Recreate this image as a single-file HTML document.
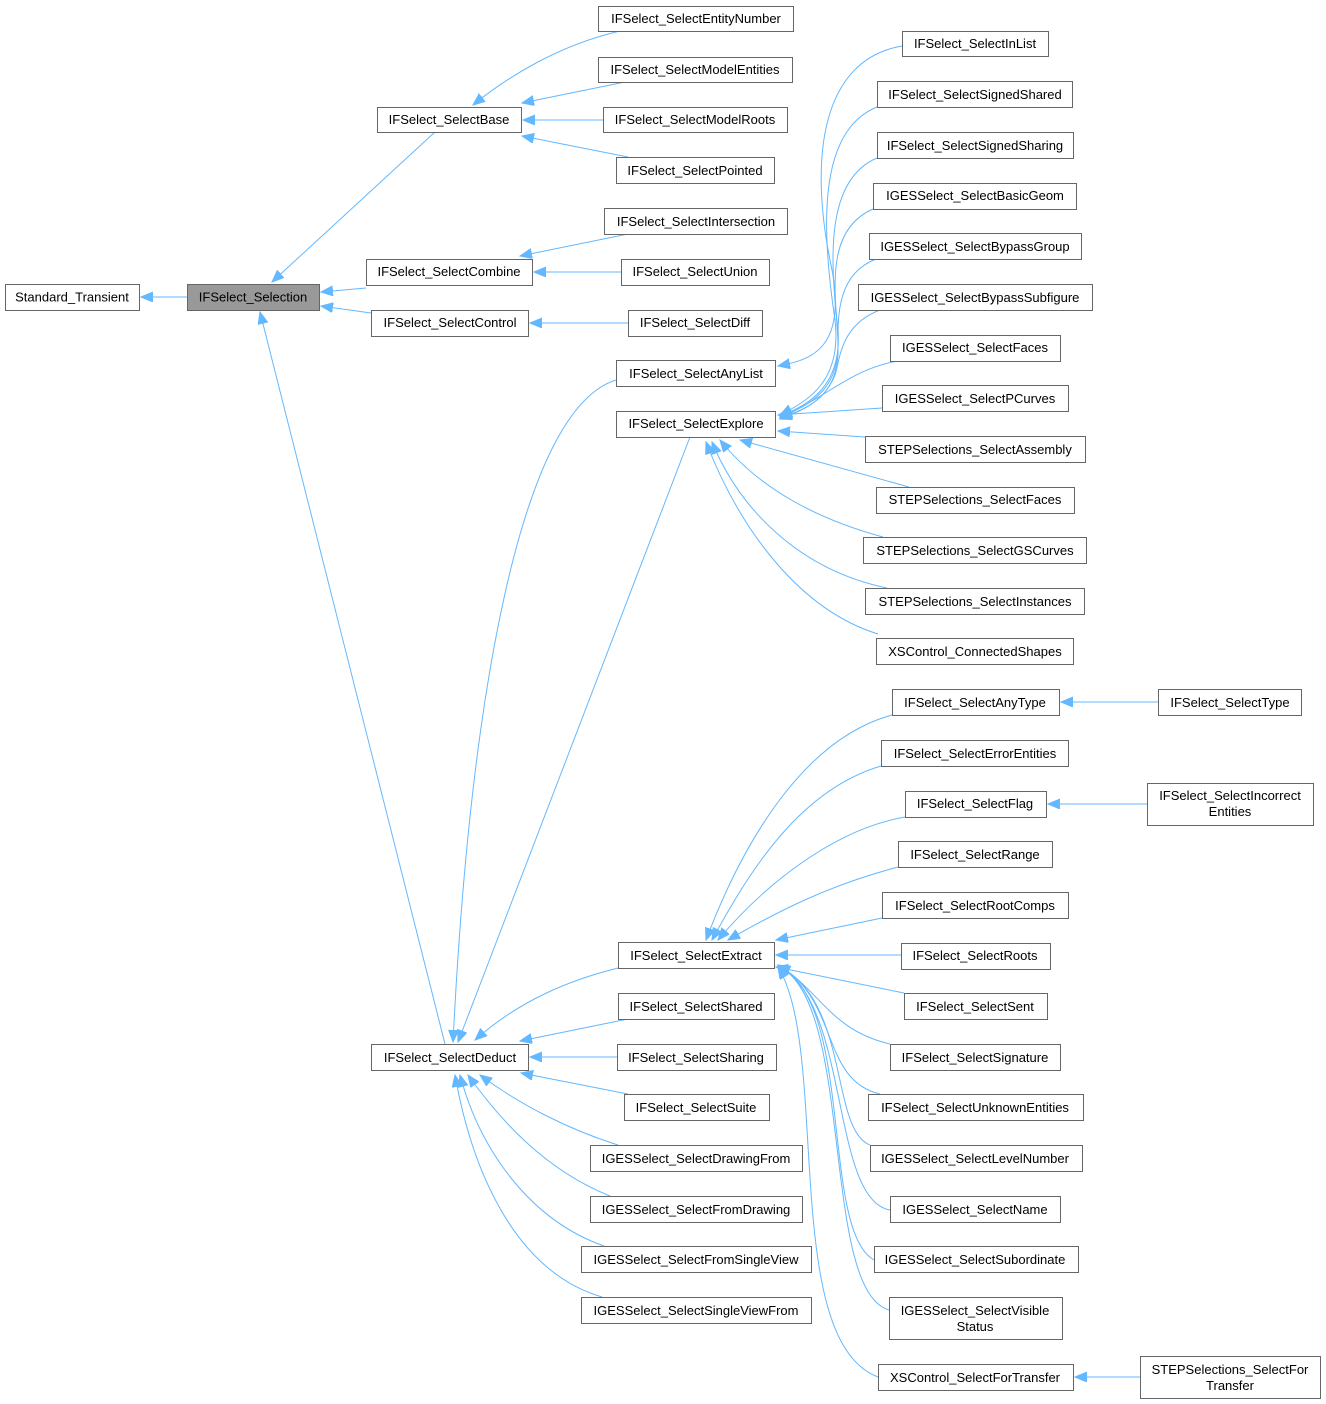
<!DOCTYPE html>
<html><head><meta charset="utf-8"><style>
html,body{margin:0;padding:0;background:#fff;}
svg{display:block;}
text{font-family:"Liberation Sans",sans-serif;font-size:13px;fill:#000;}
.e{fill:none;stroke:#63b8ff;stroke-width:1;}
rect{fill:#fff;stroke:#666;stroke-width:1;}
</style></head><body>
<svg width="1326" height="1404" viewBox="0 0 1326 1404" xmlns="http://www.w3.org/2000/svg">
<defs><marker id="a" markerUnits="userSpaceOnUse" markerWidth="14" markerHeight="12" refX="12" refY="5" orient="auto"><path d="M0,0 L12,5 L0,10 z" fill="#63b8ff" stroke="#63b8ff"/></marker></defs>
<g class="edges">
<path class="e" marker-end="url(#a)" d="M187,297 L141,297"/>
<path class="e" marker-end="url(#a)" d="M435,132 L272,282"/>
<path class="e" marker-end="url(#a)" d="M620,31 C560,45 510,75 473,105"/>
<path class="e" marker-end="url(#a)" d="M625,82 L522,103"/>
<path class="e" marker-end="url(#a)" d="M603,120 L523,120"/>
<path class="e" marker-end="url(#a)" d="M628,157 L522,136"/>
<path class="e" marker-end="url(#a)" d="M628,234 L520,256"/>
<path class="e" marker-end="url(#a)" d="M621,272 L534,272"/>
<path class="e" marker-end="url(#a)" d="M366,288 L321,292"/>
<path class="e" marker-end="url(#a)" d="M371,313 L321,306"/>
<path class="e" marker-end="url(#a)" d="M628,323 L530,323"/>
<path class="e" marker-end="url(#a)" d="M445,1044 L260,312"/>
<path class="e" marker-end="url(#a)" d="M616,380 C520,410 470,700 453,1042"/>
<path class="e" marker-end="url(#a)" d="M690,437 L458,1042"/>
<path class="e" marker-end="url(#a)" d="M618,968 C570,980 520,1000 475,1040"/>
<path class="e" marker-end="url(#a)" d="M628,1019 L520,1041"/>
<path class="e" marker-end="url(#a)" d="M617,1057 L530,1057"/>
<path class="e" marker-end="url(#a)" d="M628,1094 L521,1073"/>
<path class="e" marker-end="url(#a)" d="M618,1145 C570,1130 520,1105 480,1075"/>
<path class="e" marker-end="url(#a)" d="M610,1196 C545,1170 500,1120 468,1075"/>
<path class="e" marker-end="url(#a)" d="M604,1246 C530,1220 480,1150 460,1075"/>
<path class="e" marker-end="url(#a)" d="M602,1297 C510,1270 470,1160 455,1075"/>
<path class="e" marker-end="url(#a)" d="M902,46 C820,60 810,160 830,260 C850,350 810,360 778,366"/>
<path class="e" marker-end="url(#a)" d="M877,107 C820,130 820,220 835,320 C842,380 810,400 780,415"/>
<path class="e" marker-end="url(#a)" d="M877,158 C825,180 830,260 838,330 C842,385 810,405 780,416"/>
<path class="e" marker-end="url(#a)" d="M873,209 C825,230 835,290 838,340 C840,390 810,405 780,417"/>
<path class="e" marker-end="url(#a)" d="M876,259 C835,275 838,320 838,350 C838,395 810,408 780,418"/>
<path class="e" marker-end="url(#a)" d="M880,310 C840,325 840,360 835,375 C825,400 805,410 780,419"/>
<path class="e" marker-end="url(#a)" d="M897,361 C850,370 830,395 780,418"/>
<path class="e" marker-end="url(#a)" d="M882,408 L778,415"/>
<path class="e" marker-end="url(#a)" d="M865,437 L778,431"/>
<path class="e" marker-end="url(#a)" d="M909,487 L740,440"/>
<path class="e" marker-end="url(#a)" d="M883,537 C820,520 760,490 720,440"/>
<path class="e" marker-end="url(#a)" d="M887,588 C800,570 740,510 712,442"/>
<path class="e" marker-end="url(#a)" d="M878,634 C800,610 740,530 706,442"/>
<path class="e" marker-end="url(#a)" d="M892,715 C800,740 740,850 706,940"/>
<path class="e" marker-end="url(#a)" d="M881,766 C800,790 750,870 712,940"/>
<path class="e" marker-end="url(#a)" d="M905,817 C830,830 760,890 718,940"/>
<path class="e" marker-end="url(#a)" d="M898,867 C830,885 780,910 728,940"/>
<path class="e" marker-end="url(#a)" d="M882,918 L776,940"/>
<path class="e" marker-end="url(#a)" d="M901,955 L776,955"/>
<path class="e" marker-end="url(#a)" d="M904,993 L776,967"/>
<path class="e" marker-end="url(#a)" d="M890,1044 C830,1030 820,990 778,965"/>
<path class="e" marker-end="url(#a)" d="M880,1094 C820,1080 840,1000 778,965"/>
<path class="e" marker-end="url(#a)" d="M870,1145 C830,1130 850,1000 778,966"/>
<path class="e" marker-end="url(#a)" d="M890,1210 C830,1200 850,1000 778,966"/>
<path class="e" marker-end="url(#a)" d="M874,1260 C820,1230 855,1000 778,966"/>
<path class="e" marker-end="url(#a)" d="M889,1310 C820,1290 855,1000 778,966"/>
<path class="e" marker-end="url(#a)" d="M878,1377 C780,1340 830,1050 778,967"/>
<path class="e" marker-end="url(#a)" d="M1158,702 L1061,702"/>
<path class="e" marker-end="url(#a)" d="M1147,804 L1048,804"/>
<path class="e" marker-end="url(#a)" d="M1140,1377 L1075,1377"/>
</g>
<g text-anchor="middle">
<rect x="5.5" y="284.5" width="134" height="26"/><text x="72" y="301.5">Standard_Transient</text>
<rect x="187.5" y="284.5" width="132" height="26" style="fill:#999"/><text x="253" y="301.5">IFSelect_Selection</text>
<rect x="377.5" y="107.5" width="144" height="25"/><text x="449" y="124">IFSelect_SelectBase</text>
<rect x="598.5" y="6.5" width="195" height="25"/><text x="696" y="23">IFSelect_SelectEntityNumber</text>
<rect x="598.5" y="57.5" width="194" height="25"/><text x="695" y="74">IFSelect_SelectModelEntities</text>
<rect x="603.5" y="107.5" width="184" height="25"/><text x="695" y="124">IFSelect_SelectModelRoots</text>
<rect x="616.5" y="157.5" width="158" height="26"/><text x="695" y="175">IFSelect_SelectPointed</text>
<rect x="604.5" y="208.5" width="183" height="26"/><text x="696" y="226">IFSelect_SelectIntersection</text>
<rect x="366.5" y="259.5" width="166" height="26"/><text x="449" y="276">IFSelect_SelectCombine</text>
<rect x="621.5" y="259.5" width="148" height="26"/><text x="695" y="276">IFSelect_SelectUnion</text>
<rect x="371.5" y="310.5" width="157" height="26"/><text x="450" y="327">IFSelect_SelectControl</text>
<rect x="628.5" y="310.5" width="134" height="26"/><text x="695" y="327">IFSelect_SelectDiff</text>
<rect x="616.5" y="360.5" width="159" height="26"/><text x="696" y="378">IFSelect_SelectAnyList</text>
<rect x="616.5" y="411.5" width="159" height="26"/><text x="696" y="428">IFSelect_SelectExplore</text>
<rect x="902.5" y="31.5" width="146" height="25"/><text x="975" y="48">IFSelect_SelectInList</text>
<rect x="877.5" y="81.5" width="195" height="26"/><text x="975" y="99">IFSelect_SelectSignedShared</text>
<rect x="877.5" y="132.5" width="196" height="26"/><text x="975" y="150">IFSelect_SelectSignedSharing</text>
<rect x="873.5" y="183.5" width="203" height="26"/><text x="975" y="200">IGESSelect_SelectBasicGeom</text>
<rect x="869.5" y="233.5" width="212" height="26"/><text x="975" y="251">IGESSelect_SelectBypassGroup</text>
<rect x="858.5" y="284.5" width="234" height="26"/><text x="975" y="302">IGESSelect_SelectBypassSubfigure</text>
<rect x="890.5" y="335.5" width="170" height="26"/><text x="975" y="352">IGESSelect_SelectFaces</text>
<rect x="882.5" y="385.5" width="186" height="26"/><text x="975" y="403">IGESSelect_SelectPCurves</text>
<rect x="865.5" y="436.5" width="220" height="26"/><text x="975" y="454">STEPSelections_SelectAssembly</text>
<rect x="876.5" y="487.5" width="198" height="26"/><text x="975" y="504">STEPSelections_SelectFaces</text>
<rect x="863.5" y="537.5" width="223" height="26"/><text x="975" y="555">STEPSelections_SelectGSCurves</text>
<rect x="865.5" y="588.5" width="219" height="26"/><text x="975" y="606">STEPSelections_SelectInstances</text>
<rect x="876.5" y="638.5" width="197" height="26"/><text x="975" y="656">XSControl_ConnectedShapes</text>
<rect x="892.5" y="689.5" width="167" height="26"/><text x="975" y="707">IFSelect_SelectAnyType</text>
<rect x="1158.5" y="689.5" width="143" height="26"/><text x="1230" y="707">IFSelect_SelectType</text>
<rect x="881.5" y="740.5" width="187" height="26"/><text x="975" y="758">IFSelect_SelectErrorEntities</text>
<rect x="905.5" y="791.5" width="141" height="26"/><text x="975" y="808">IFSelect_SelectFlag</text>
<rect x="1147.5" y="783.5" width="166" height="42"/><text x="1230" y="800">IFSelect_SelectIncorrect</text><text x="1230" y="816">Entities</text>
<rect x="898.5" y="841.5" width="154" height="26"/><text x="975" y="859">IFSelect_SelectRange</text>
<rect x="882.5" y="892.5" width="186" height="26"/><text x="975" y="910">IFSelect_SelectRootComps</text>
<rect x="901.5" y="943.5" width="149" height="26"/><text x="975" y="960">IFSelect_SelectRoots</text>
<rect x="904.5" y="993.5" width="143" height="26"/><text x="975" y="1011">IFSelect_SelectSent</text>
<rect x="890.5" y="1044.5" width="170" height="26"/><text x="975" y="1062">IFSelect_SelectSignature</text>
<rect x="868.5" y="1094.5" width="215" height="26"/><text x="975" y="1112">IFSelect_SelectUnknownEntities</text>
<rect x="870.5" y="1145.5" width="212" height="26"/><text x="975" y="1163">IGESSelect_SelectLevelNumber</text>
<rect x="890.5" y="1196.5" width="170" height="26"/><text x="975" y="1214">IGESSelect_SelectName</text>
<rect x="874.5" y="1246.5" width="204" height="26"/><text x="975" y="1264">IGESSelect_SelectSubordinate</text>
<rect x="889.5" y="1297.5" width="173" height="42"/><text x="975" y="1315">IGESSelect_SelectVisible</text><text x="975" y="1331">Status</text>
<rect x="878.5" y="1364.5" width="195" height="26"/><text x="975" y="1382">XSControl_SelectForTransfer</text>
<rect x="1140.5" y="1356.5" width="180" height="42"/><text x="1230" y="1374">STEPSelections_SelectFor</text><text x="1230" y="1390">Transfer</text>
<rect x="618.5" y="942.5" width="156" height="26"/><text x="696" y="960">IFSelect_SelectExtract</text>
<rect x="618.5" y="993.5" width="156" height="26"/><text x="696" y="1011">IFSelect_SelectShared</text>
<rect x="617.5" y="1044.5" width="159" height="26"/><text x="696" y="1062">IFSelect_SelectSharing</text>
<rect x="624.5" y="1094.5" width="145" height="26"/><text x="696" y="1112">IFSelect_SelectSuite</text>
<rect x="590.5" y="1145.5" width="212" height="26"/><text x="696" y="1163">IGESSelect_SelectDrawingFrom</text>
<rect x="590.5" y="1196.5" width="212" height="26"/><text x="696" y="1214">IGESSelect_SelectFromDrawing</text>
<rect x="581.5" y="1246.5" width="230" height="26"/><text x="696" y="1264">IGESSelect_SelectFromSingleView</text>
<rect x="581.5" y="1297.5" width="230" height="26"/><text x="696" y="1315">IGESSelect_SelectSingleViewFrom</text>
<rect x="371.5" y="1044.5" width="157" height="26"/><text x="450" y="1062">IFSelect_SelectDeduct</text>
</g>
</svg>
</body></html>
